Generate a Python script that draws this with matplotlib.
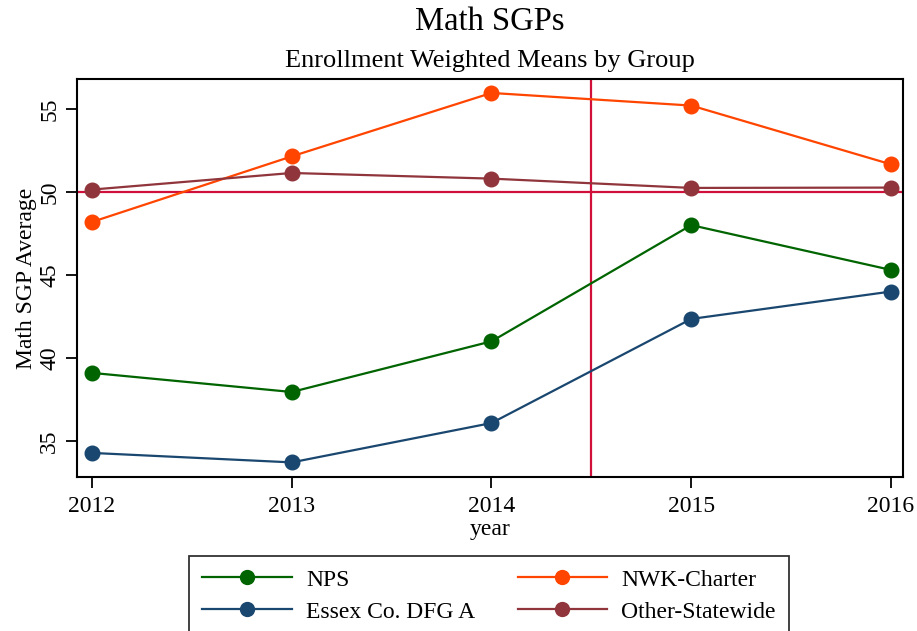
import matplotlib
matplotlib.use("Agg")
import matplotlib.pyplot as plt

years = [2012, 2013, 2014, 2015, 2016]
nps = [39.1, 37.95, 41.0, 48.0, 45.3]
essex = [34.28, 33.71, 36.08, 42.35, 44.0]
nwk_charter = [48.19, 52.14, 55.96, 55.2, 51.66]
other_statewide = [50.14, 51.14, 50.8, 50.24, 50.26]
series_names = ["NPS", "Essex Co. DFG A", "NWK-Charter", "Other-Statewide"]
ref_year = 2014.5
ref_value = 50
yticks = [35, 40, 45, 50, 55]

plt.rcParams['font.family'] = ['Liberation Serif', 'DejaVu Serif']

fig = plt.figure(figsize=(9.17, 6.31), dpi=100)
ax = fig.add_axes([77/917, 1-477/631, (903-77)/917, (477-79)/631])

ref_color = '#d0103a'
ax.axhline(ref_value, color=ref_color, lw=1.6, zorder=1)
ax.axvline(ref_year, color=ref_color, lw=1.6, zorder=1)

ms = 10.5
lw = 1.6
l1, = ax.plot(years, nps, '-o', color='#006400', lw=lw, ms=ms, zorder=3)
l2, = ax.plot(years, nwk_charter, '-o', color='#ff4500', lw=lw, ms=ms, zorder=3)
l3, = ax.plot(years, essex, '-o', color='#1a476f', lw=lw, ms=ms, zorder=3)
l4, = ax.plot(years, other_statewide, '-o', color='#90353b', lw=lw, ms=ms, zorder=3)

ax.set_xlim(2012 - 0.075, 2016 + 0.06)
ax.set_ylim(32.83, 56.8)
ax.set_xticks(years)
ax.set_xticklabels([str(y) for y in years])
ax.set_yticks(yticks)
ax.set_yticklabels([str(v) for v in yticks], rotation=90, va='center')
ax.tick_params(axis='both', length=8, width=1.3, labelsize=17, direction='out')
ax.tick_params(axis='x', pad=6)
ax.tick_params(axis='y', pad=4)
for s in ax.spines.values():
    s.set_linewidth(1.5)
    s.set_color('black')

ax.set_xlabel('year', fontsize=17, labelpad=1)
ax.set_ylabel('Math SGP Average', fontsize=17, labelpad=2)

fig.text(490/917, 1-22/631, 'Math SGPs', fontsize=23.5, ha='center', va='center')
fig.text(490/917, 1-61/631, 'Enrollment Weighted Means by Group', fontsize=19, ha='center', va='center')

leg = fig.legend([l1, l3, l2, l4], series_names, ncol=2, loc='upper left',
                 bbox_to_anchor=(189/917, 1-556/631), fontsize=17, frameon=True,
                 fancybox=False, edgecolor='black', handlelength=3.8, handletextpad=0.6,
                 columnspacing=1.8, labelspacing=0.45, borderpad=0.55, borderaxespad=0)
leg.get_frame().set_linewidth(1.3)
for h in leg.legend_handles:
    h.set_markersize(10)

fig.savefig('out.png', dpi=100)
